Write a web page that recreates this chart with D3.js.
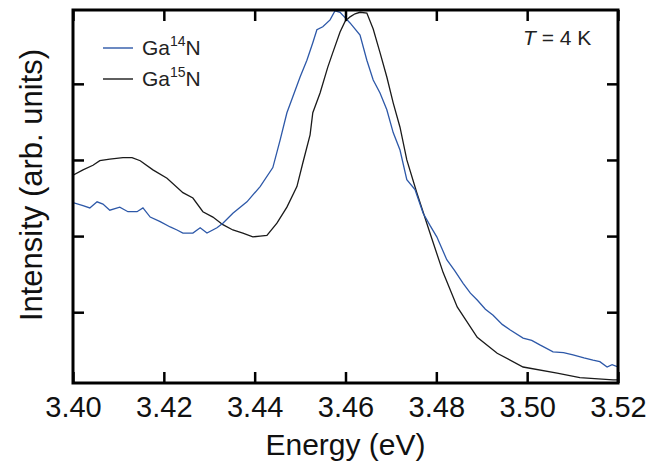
<!DOCTYPE html>
<html>
<head>
<meta charset="utf-8">
<script src="https://cdn.jsdelivr.net/npm/d3@7"></script>
<style>
  html, body { margin: 0; padding: 0; background: #fff; }
  svg { display: block; font-family: "Liberation Sans", Arial, Helvetica, sans-serif; }
</style>
</head>
<body>
<svg id="chart" width="661" height="467"></svg>
<script>
// ---- data ----
const xTicks = [3.40, 3.42, 3.44, 3.46, 3.48, 3.50, 3.52];
const xTickLabels = ["3.40", "3.42", "3.44", "3.46", "3.48", "3.50", "3.52"];
const yTicks = [1, 2, 3, 4];

const ga15Energy = [3.4000, 3.4022, 3.4044, 3.4059, 3.4081, 3.4110, 3.4130, 3.4148, 3.4176, 3.4207,
  3.4242, 3.4264, 3.4286, 3.4308, 3.4330, 3.4352, 3.4374, 3.4396, 3.4412, 3.4427,
  3.4449, 3.4471, 3.4493, 3.4506, 3.4522, 3.4528, 3.4544, 3.4561, 3.4572, 3.4588,
  3.4599, 3.4610, 3.4621, 3.4632, 3.4647, 3.4661, 3.4676, 3.4691, 3.4705, 3.4720, 3.4735,
  3.4757, 3.4786, 3.4815, 3.4846, 3.4890, 3.4934, 3.4991, 3.5066, 3.5116, 3.5189, 3.5200];
const ga15Intensity = [2.80, 2.87, 2.93, 2.99, 3.01, 3.03, 3.03, 2.99, 2.87, 2.76,
  2.57, 2.50, 2.32, 2.25, 2.15, 2.08, 2.04, 1.99, 2.00, 2.01,
  2.17, 2.38, 2.65, 2.96, 3.33, 3.62, 3.88, 4.22, 4.41, 4.68,
  4.82, 4.88, 4.92, 4.94, 4.93, 4.72, 4.41, 4.09, 3.75, 3.43, 3.00,
  2.57, 2.04, 1.52, 1.07, 0.67, 0.46, 0.28, 0.20, 0.14, 0.11, 0.11];

const ga14Energy = [3.4000, 3.4022, 3.4037, 3.4053, 3.4066, 3.4081, 3.4103, 3.4121, 3.4141, 3.4154,
  3.4170, 3.4192, 3.4214, 3.4229, 3.4242, 3.4264, 3.4280, 3.4295, 3.4317, 3.4330,
  3.4352, 3.4383, 3.4412, 3.4440, 3.4456, 3.4471, 3.4484, 3.4500, 3.4515, 3.4528,
  3.4537, 3.4550, 3.4566, 3.4577, 3.4588, 3.4599, 3.4610, 3.4632, 3.4647, 3.4661,
  3.4676, 3.4691, 3.4705, 3.4720, 3.4735, 3.4753, 3.4771, 3.4786, 3.4801, 3.4823, 3.4840, 3.4859,
  3.4875, 3.4890, 3.4908, 3.4925, 3.4945, 3.4962, 3.4991, 3.5010, 3.5028, 3.5057, 3.5080, 3.5101,
  3.5125, 3.5145, 3.5160, 3.5176, 3.5187, 3.5200];
const ga14Intensity = [2.44, 2.40, 2.37, 2.45, 2.42, 2.34, 2.38, 2.32, 2.32, 2.37,
  2.25, 2.19, 2.12, 2.08, 2.04, 2.04, 2.11, 2.04, 2.11, 2.17,
  2.30, 2.45, 2.65, 2.90, 3.26, 3.62, 3.83, 4.09, 4.31, 4.54,
  4.71, 4.75, 4.84, 4.96, 4.94, 4.87, 4.80, 4.64, 4.31, 4.05,
  3.88, 3.66, 3.36, 3.13, 2.74, 2.61, 2.30, 2.14, 1.99, 1.69, 1.55, 1.38,
  1.25, 1.16, 1.04, 0.96, 0.84, 0.77, 0.66, 0.63, 0.57, 0.48, 0.47, 0.44,
  0.40, 0.37, 0.35, 0.28, 0.31, 0.28];

const seriesNames = ["Ga14N", "Ga15N"];
const seriesColors = ["#2d58a8", "#1a1a1a"];

// ---- layout ----
const svg = d3.select("#chart");
const L = 73, R = 618, T = 10, B = 383;
const x = d3.scaleLinear().domain([3.40, 3.52]).range([L, R]);
const y = d3.scaleLinear().domain([0.07, 4.97]).range([B, T]);

svg.append("defs").append("clipPath").attr("id", "clip")
  .append("rect").attr("x", L).attr("y", T - 2).attr("width", R - L).attr("height", B - T + 2);

const line = d3.line().x(d => x(d[0])).y(d => y(d[1]));
const ga14 = ga14Energy.map((e, i) => [e, ga14Intensity[i]]);
const ga15 = ga15Energy.map((e, i) => [e, ga15Intensity[i]]);

const g = svg.append("g").attr("clip-path", "url(#clip)");
g.append("path").datum(ga15).attr("d", line)
  .attr("fill", "none").attr("stroke", seriesColors[1]).attr("stroke-width", 1.3);
g.append("path").datum(ga14).attr("d", line)
  .attr("fill", "none").attr("stroke", seriesColors[0]).attr("stroke-width", 1.3);

// axes with inward ticks
const tickLen = 11;
const styleAxis = sel => {
  sel.select(".domain").remove();
  sel.selectAll(".tick line").attr("stroke", "#000").attr("stroke-width", 2.5);
};
svg.append("g").attr("transform", `translate(0,${B})`)
  .call(d3.axisBottom(x).tickValues(xTicks).tickSize(-tickLen).tickPadding(13)
    .tickFormat((d, i) => xTickLabels[i]))
  .call(styleAxis)
  .call(s => s.selectAll("text").attr("font-size", 29).attr("fill", "#111")
    .attr("font-family", "'Liberation Sans', Arial, sans-serif"));
svg.append("g").attr("transform", `translate(0,${T})`)
  .call(d3.axisTop(x).tickValues(xTicks).tickSize(-tickLen).tickFormat(""))
  .call(styleAxis);
svg.append("g").attr("transform", `translate(${L},0)`)
  .call(d3.axisLeft(y).tickValues(yTicks).tickSize(-tickLen).tickFormat(""))
  .call(styleAxis);
svg.append("g").attr("transform", `translate(${R},0)`)
  .call(d3.axisRight(y).tickValues(yTicks).tickSize(-tickLen).tickFormat(""))
  .call(styleAxis);

// frame
svg.append("rect").attr("x", L).attr("y", T).attr("width", R - L).attr("height", B - T)
  .attr("fill", "none").attr("stroke", "#000").attr("stroke-width", 3);

// axis titles
svg.append("text").attr("x", (L + R) / 2).attr("y", 455).attr("text-anchor", "middle")
  .attr("font-size", 30).attr("fill", "#111").text("Energy (eV)");
svg.append("text").attr("transform", `translate(42,${185}) rotate(-90)`).attr("text-anchor", "middle")
  .attr("font-size", 31).attr("fill", "#111").text("Intensity (arb. units)");

// legend
const legend = svg.append("g");
[0, 1].forEach(i => {
  const ly = 48 + i * 31;
  legend.append("line").attr("x1", 103).attr("x2", 133).attr("y1", ly).attr("y2", ly)
    .attr("stroke", seriesColors[i]).attr("stroke-width", 1.4);
  const t = legend.append("text").attr("x", 142).attr("y", ly + 7).attr("font-size", 21).attr("fill", "#222");
  t.append("tspan").text("Ga");
  t.append("tspan").attr("font-size", 14).attr("dy", -9).text(seriesNames[i].slice(2, 4));
  t.append("tspan").attr("dy", 9).text("N");
});

// temperature label
const tl = svg.append("text").attr("x", 523).attr("y", 45).attr("font-size", 21).attr("fill", "#222");
tl.append("tspan").attr("font-style", "italic").text("T");
tl.append("tspan").text(" = 4 K");
</script>
</body>
</html>
